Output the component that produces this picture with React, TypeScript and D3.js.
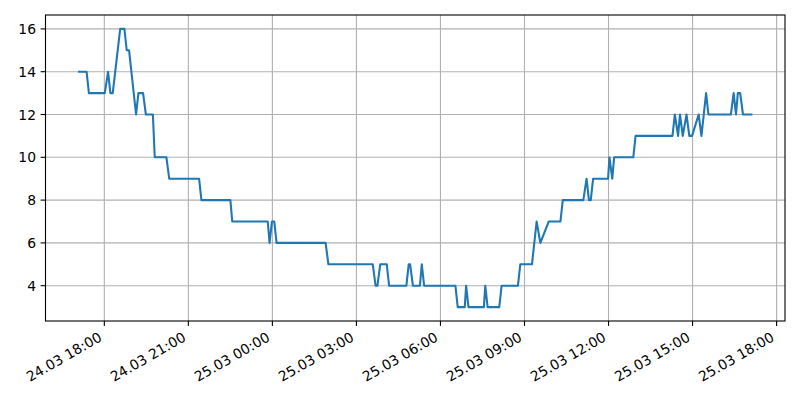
import React from "react";
import * as d3 from "d3";

const times: string[] = [
  "24.03 17:06","24.03 17:22","24.03 17:27","24.03 18:01","24.03 18:08","24.03 18:13","24.03 18:18",
  "24.03 18:34","24.03 18:43","24.03 18:48","24.03 18:53","24.03 19:08","24.03 19:13","24.03 19:23",
  "24.03 19:29","24.03 19:44","24.03 19:48","24.03 20:13","24.03 20:19","24.03 21:23","24.03 21:28",
  "24.03 22:30","24.03 22:34","24.03 23:50","24.03 23:54","24.03 23:59","25.03 00:04","25.03 00:09",
  "25.03 01:54","25.03 02:00","25.03 03:35","25.03 03:41","25.03 03:45","25.03 03:51","25.03 04:05",
  "25.03 04:10","25.03 04:47","25.03 04:52","25.03 04:55","25.03 05:01","25.03 05:16","25.03 05:20",
  "25.03 05:25","25.03 06:32","25.03 06:37","25.03 06:52","25.03 06:55","25.03 07:00","25.03 07:33",
  "25.03 07:36","25.03 07:41","25.03 08:06","25.03 08:11","25.03 08:46","25.03 08:51","25.03 09:16",
  "25.03 09:26","25.03 09:34","25.03 09:52","25.03 10:17","25.03 10:22","25.03 11:06","25.03 11:13",
  "25.03 11:18","25.03 11:22","25.03 11:27","25.03 11:59","25.03 12:02","25.03 12:08","25.03 12:12",
  "25.03 12:53","25.03 12:58","25.03 14:17","25.03 14:22","25.03 14:29","25.03 14:33","25.03 14:39",
  "25.03 14:47","25.03 14:53","25.03 14:59","25.03 15:13","25.03 15:19","25.03 15:29","25.03 15:34",
  "25.03 16:22","25.03 16:28","25.03 16:33","25.03 16:37","25.03 16:42","25.03 16:48","25.03 17:06",
];

const values: number[] = [
  14,14,13,13,14,13,13,
  16,16,15,15,12,13,13,
  12,12,10,10,9,9,8,
  8,7,7,6,7,7,6,
  6,5,5,4,4,5,5,
  4,4,5,5,4,4,5,
  4,4,3,3,4,3,3,
  4,3,3,4,4,5,5,
  7,6,7,7,8,8,9,
  8,8,9,9,10,9,10,
  10,11,11,12,11,12,11,
  12,11,11,12,11,13,12,
  12,13,12,13,13,12,12,
];

const yTicks: number[] = [4, 6, 8, 10, 12, 14, 16];

const W = 800, H = 400;
const L = 45.5, R = 785, T = 15, B = 321;
const FONT = "DejaVu Sans";
const FS = 13.9;

export default function App() {
  const parse = d3.timeParse("%Y %d.%m %H:%M");
  const data = times.map((t, i) => ({ t: parse("2024 " + t) as Date, v: values[i] }));
  const ext = d3.extent(data, (d) => d.t) as [Date, Date];
  const span = ext[1].getTime() - ext[0].getTime();
  const x = d3
    .scaleTime()
    .domain([new Date(ext[0].getTime() - span * 0.05), new Date(ext[1].getTime() + span * 0.05)])
    .range([L, R]);
  const vext = d3.extent(values) as [number, number];
  const vs = vext[1] - vext[0];
  const y = d3.scaleLinear().domain([vext[0] - vs * 0.05, vext[1] + vs * 0.05]).range([B, T]);
  const xTicks = x.ticks(d3.timeHour.every(3) as any);
  const fmt = d3.timeFormat("%d.%m %H:%M");
  const line = d3
    .line<{ t: Date; v: number }>()
    .x((d) => x(d.t))
    .y((d) => y(d.v));

  return (
    <svg width={W} height={H} style={{ position: "absolute", left: 0, top: 0 }}>
      <rect x={0} y={0} width={W} height={H} fill="#fff" />
      <g>
        {xTicks.map((t, i) => (
          <line key={"gx" + i} x1={x(t)} x2={x(t)} y1={T} y2={B} stroke="#b0b0b0" strokeWidth={1.1} />
        ))}
        {yTicks.map((v, i) => (
          <line key={"gy" + i} x1={L} x2={R} y1={y(v)} y2={y(v)} stroke="#b0b0b0" strokeWidth={1.1} />
        ))}
      </g>
      <path d={line(data) || ""} fill="none" stroke="#1f77b4" strokeWidth={2.08} strokeLinejoin="round" strokeLinecap="square" />
      <rect x={L} y={T} width={R - L} height={B - T} fill="none" stroke="#000" strokeWidth={1.1} />
      {yTicks.map((v, i) => (
        <g key={"yt" + i}>
          <line x1={L - 4.9} x2={L} y1={y(v)} y2={y(v)} stroke="#000" strokeWidth={1.1} />
          <text x={L - 9.5} y={y(v)} dy="0.36em" textAnchor="end" fontFamily={FONT} fontSize={FS} fill="#000">
            {v}
          </text>
        </g>
      ))}
      {xTicks.map((t, i) => (
        <g key={"xt" + i}>
          <line x1={x(t)} x2={x(t)} y1={B} y2={B + 4.9} stroke="#000" strokeWidth={1.1} />
          <text
            transform={`translate(${x(t) - 1.5},${B + 19}) rotate(-30)`}
            textAnchor="end"
            fontFamily={FONT}
            fontSize={FS}
            fill="#000"
          >
            {fmt(t)}
          </text>
        </g>
      ))}
    </svg>
  );
}
